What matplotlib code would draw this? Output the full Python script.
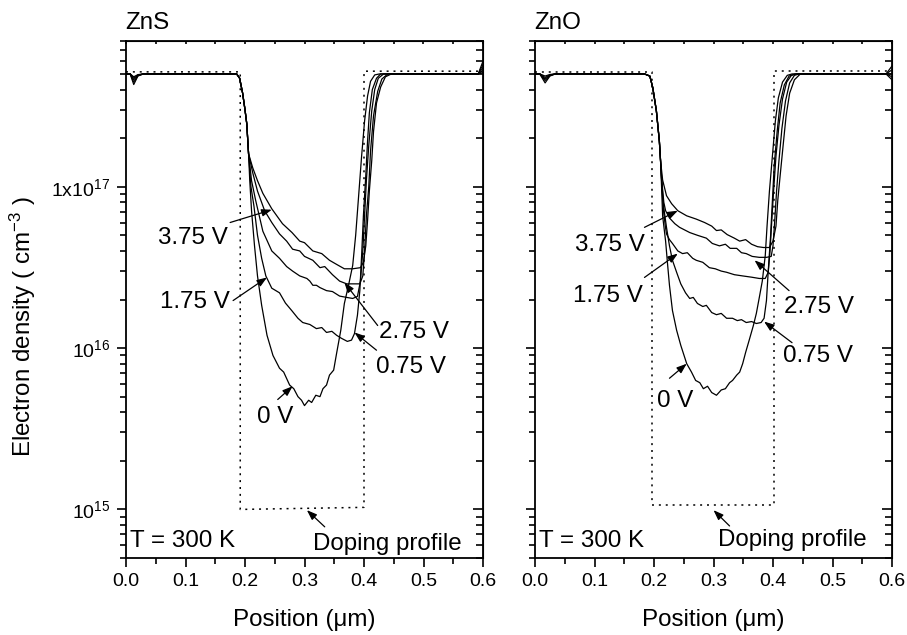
import numpy as np
import matplotlib
matplotlib.use("Agg")
import matplotlib.pyplot as plt
from matplotlib.ticker import (FixedLocator, FixedFormatter, MultipleLocator,
                               FormatStrFormatter, LogLocator, NullFormatter)

plt.rcParams['font.family'] = ['Liberation Sans', 'DejaVu Sans']
plt.rcParams['mathtext.fontset'] = 'custom'
plt.rcParams['mathtext.rm'] = 'Liberation Sans'
plt.rcParams['mathtext.it'] = 'Liberation Sans:italic'

# Electron density (cm^-3) vs position (um) for each bias, ZnS device
zns_0v = [(0.000, 5.0e17), (0.007, 5.0e17), (0.013, 4.3e17), (0.020, 4.85e17), (0.029, 5.0e17),
          (0.186, 5.0e17), (0.191, 4.7e17), (0.196, 3.8e17), (0.200, 3.0e17), (0.203, 2.45e17),
          (0.206, 1.6e17), (0.208, 1.09e17), (0.211, 7.1e16), (0.216, 4.3e16), (0.221, 2.8e16),
          (0.228, 1.84e16), (0.237, 1.2e16), (0.247, 9.0e15), (0.258, 7.5e15), (0.265, 7.1e15),
          (0.275, 5.9e15), (0.282, 5.6e15), (0.289, 5.0e15), (0.295, 4.75e15), (0.300, 4.4e15),
          (0.307, 4.75e15), (0.312, 4.6e15), (0.319, 5.1e15), (0.326, 5.0e15), (0.331, 5.6e15),
          (0.337, 5.9e15), (0.342, 6.8e15), (0.349, 7.3e15), (0.354, 9.3e15), (0.361, 1.29e16),
          (0.367, 1.89e16), (0.374, 2.45e16), (0.381, 3.25e16), (0.386, 5.0e16), (0.391, 8.8e16),
          (0.396, 1.55e17), (0.401, 2.56e17), (0.406, 3.65e17), (0.411, 4.5e17), (0.418, 4.93e17),
          (0.426, 5.0e17), (0.592, 5.0e17), (0.600, 6.0e17)]
zns_075v = [(0.000, 5.0e17), (0.007, 5.0e17), (0.013, 4.45e17), (0.020, 4.88e17), (0.029, 5.0e17),
            (0.186, 5.0e17), (0.191, 4.7e17), (0.196, 3.8e17), (0.200, 3.0e17), (0.203, 2.45e17),
            (0.206, 1.6e17), (0.210, 1.0e17), (0.215, 7.6e16), (0.221, 5.0e16), (0.228, 3.6e16),
            (0.235, 2.8e16), (0.245, 2.35e16), (0.258, 2.2e16), (0.268, 1.9e16), (0.279, 1.7e16),
            (0.289, 1.53e16), (0.297, 1.44e16), (0.309, 1.4e16), (0.320, 1.32e16), (0.329, 1.34e16),
            (0.337, 1.25e16), (0.346, 1.27e16), (0.354, 1.2e16), (0.362, 1.15e16), (0.372, 1.1e16),
            (0.379, 1.12e16), (0.384, 1.23e16), (0.389, 1.6e16), (0.393, 2.27e16), (0.396, 3.75e16),
            (0.399, 6.6e16), (0.403, 1.17e17), (0.406, 1.92e17), (0.409, 2.87e17), (0.414, 4.0e17),
            (0.421, 4.7e17), (0.428, 5.0e17), (0.592, 5.0e17), (0.600, 5.7e17)]
zns_175v = [(0.000, 5.0e17), (0.007, 5.0e17), (0.013, 4.6e17), (0.020, 4.9e17), (0.029, 5.0e17),
            (0.186, 5.0e17), (0.191, 4.7e17), (0.196, 3.8e17), (0.200, 3.0e17), (0.203, 2.45e17),
            (0.206, 1.6e17), (0.211, 1.09e17), (0.218, 8.2e16), (0.230, 5.3e16), (0.245, 4.0e16),
            (0.258, 3.6e16), (0.270, 3.2e16), (0.280, 3.0e16), (0.292, 2.8e16), (0.304, 2.7e16),
            (0.309, 2.6e16), (0.314, 2.45e16), (0.320, 2.45e16), (0.326, 2.37e16), (0.337, 2.27e16),
            (0.347, 2.24e16), (0.359, 2.1e16), (0.371, 2.06e16), (0.381, 2.03e16), (0.389, 2.09e16),
            (0.394, 2.6e16), (0.398, 4.0e16), (0.401, 6.6e16), (0.404, 1.09e17), (0.408, 1.8e17),
            (0.413, 2.95e17), (0.418, 4.0e17), (0.424, 4.7e17), (0.433, 5.0e17), (0.592, 5.0e17),
            (0.600, 5.45e17)]
zns_275v = [(0.000, 5.0e17), (0.007, 5.0e17), (0.013, 4.7e17), (0.020, 4.92e17), (0.029, 5.0e17),
            (0.186, 5.0e17), (0.191, 4.7e17), (0.196, 3.8e17), (0.200, 3.0e17), (0.203, 2.45e17),
            (0.206, 1.6e17), (0.213, 1.22e17), (0.221, 9.4e16), (0.233, 7.1e16), (0.245, 6.0e16),
            (0.258, 5.1e16), (0.270, 4.6e16), (0.280, 4.1e16), (0.292, 4.0e16), (0.300, 3.7e16),
            (0.314, 3.5e16), (0.326, 3.15e16), (0.334, 3.2e16), (0.347, 2.85e16), (0.359, 2.6e16),
            (0.371, 2.5e16), (0.384, 2.5e16), (0.393, 2.5e16), (0.398, 2.8e16), (0.401, 4.0e16),
            (0.404, 6.6e16), (0.408, 1.0e17), (0.411, 1.67e17), (0.416, 2.75e17), (0.423, 3.9e17),
            (0.430, 4.65e17), (0.440, 5.0e17), (0.592, 5.0e17), (0.600, 5.25e17)]
zns_375v = [(0.000, 5.0e17), (0.007, 5.0e17), (0.013, 4.8e17), (0.020, 4.95e17), (0.029, 5.0e17),
            (0.186, 5.0e17), (0.191, 4.7e17), (0.196, 3.8e17), (0.200, 3.0e17), (0.203, 2.45e17),
            (0.206, 1.6e17), (0.213, 1.31e17), (0.221, 1.09e17), (0.230, 9.1e16), (0.245, 7.3e16),
            (0.263, 5.9e16), (0.279, 5.2e16), (0.292, 4.6e16), (0.300, 4.5e16), (0.314, 4.0e16),
            (0.329, 3.85e16), (0.342, 3.5e16), (0.354, 3.3e16), (0.367, 3.1e16), (0.381, 3.1e16),
            (0.394, 3.15e16), (0.399, 3.4e16), (0.403, 4.3e16), (0.406, 6.2e16), (0.409, 9.4e16),
            (0.413, 1.45e17), (0.416, 2.2e17), (0.421, 3.3e17), (0.428, 4.15e17), (0.436, 4.8e17),
            (0.446, 5.0e17), (0.592, 5.0e17), (0.600, 5.1e17)]

# Same quantities for the ZnO device
zno_0v = [(0.000, 5.0e17), (0.008, 5.0e17), (0.017, 4.4e17), (0.025, 4.85e17), (0.034, 5.0e17),
          (0.184, 5.0e17), (0.193, 4.85e17), (0.198, 4.1e17), (0.204, 2.95e17), (0.209, 1.92e17),
          (0.211, 1.45e17), (0.2125, 1.05e17), (0.2145, 6.6e16), (0.2195, 4.6e16), (0.223, 3.25e16),
          (0.226, 2.45e16), (0.231, 1.71e16), (0.238, 1.29e16), (0.245, 1.04e16), (0.255, 8.0e15),
          (0.263, 7.1e15), (0.270, 6.3e15), (0.277, 6.1e15), (0.283, 5.6e15), (0.290, 5.8e15),
          (0.297, 5.3e15), (0.305, 5.1e15), (0.313, 5.5e15), (0.320, 5.6e15), (0.327, 6.1e15),
          (0.332, 6.3e15), (0.339, 6.8e15), (0.344, 7.1e15), (0.349, 8.0e15), (0.354, 9.4e15),
          (0.360, 1.12e16), (0.367, 1.38e16), (0.372, 1.64e16), (0.377, 2.06e16), (0.382, 2.6e16),
          (0.387, 3.75e16), (0.390, 5.7e16), (0.394, 9.4e16), (0.399, 1.55e17), (0.404, 2.56e17),
          (0.409, 3.55e17), (0.416, 4.45e17), (0.424, 4.9e17), (0.432, 5.0e17), (0.590, 5.0e17),
          (0.600, 5.6e17)]
zno_075v = [(0.000, 5.0e17), (0.008, 5.0e17), (0.017, 4.55e17), (0.025, 4.88e17), (0.034, 5.0e17),
            (0.184, 5.0e17), (0.193, 4.85e17), (0.198, 4.1e17), (0.204, 2.95e17), (0.209, 1.92e17),
            (0.211, 1.45e17), (0.2125, 1.15e17), (0.216, 7.6e16), (0.221, 5.6e16), (0.226, 4.3e16),
            (0.231, 3.5e16), (0.238, 2.95e16), (0.245, 2.5e16), (0.253, 2.2e16), (0.260, 2.03e16),
            (0.266, 2.06e16), (0.273, 1.89e16), (0.282, 1.81e16), (0.288, 1.84e16), (0.297, 1.66e16),
            (0.305, 1.61e16), (0.313, 1.64e16), (0.322, 1.53e16), (0.332, 1.53e16), (0.340, 1.48e16),
            (0.347, 1.5e16), (0.355, 1.44e16), (0.364, 1.46e16), (0.372, 1.42e16), (0.380, 1.44e16),
            (0.385, 1.53e16), (0.389, 1.97e16), (0.392, 3.0e16), (0.396, 5.0e16), (0.399, 8.2e16),
            (0.402, 1.35e17), (0.407, 2.2e17), (0.412, 3.3e17), (0.419, 4.27e17), (0.427, 4.85e17),
            (0.437, 5.0e17), (0.590, 5.0e17), (0.600, 5.3e17)]
zno_175v = [(0.000, 5.0e17), (0.008, 5.0e17), (0.017, 4.65e17), (0.025, 4.9e17), (0.034, 5.0e17),
            (0.184, 5.0e17), (0.193, 4.85e17), (0.198, 4.1e17), (0.204, 2.95e17), (0.209, 1.92e17),
            (0.211, 1.45e17), (0.214, 9.0e16), (0.2165, 6.8e16), (0.219, 5.7e16), (0.221, 5.1e16),
            (0.226, 4.7e16), (0.231, 4.45e16), (0.240, 4.0e16), (0.248, 3.85e16), (0.256, 3.9e16),
            (0.265, 3.6e16), (0.271, 3.5e16), (0.282, 3.4e16), (0.293, 3.15e16), (0.303, 3.1e16),
            (0.313, 3.0e16), (0.322, 2.95e16), (0.335, 2.85e16), (0.349, 2.8e16), (0.364, 2.75e16),
            (0.377, 2.7e16), (0.387, 2.7e16), (0.392, 2.95e16), (0.395, 4.0e16), (0.398, 6.2e16),
            (0.401, 9.4e16), (0.405, 1.55e17), (0.410, 2.4e17), (0.416, 3.5e17), (0.423, 4.45e17),
            (0.431, 4.9e17), (0.440, 5.0e17), (0.590, 5.0e17), (0.600, 5.0e17)]
zno_275v = [(0.000, 5.0e17), (0.008, 5.0e17), (0.017, 4.75e17), (0.025, 4.93e17), (0.034, 5.0e17),
            (0.184, 5.0e17), (0.193, 4.85e17), (0.198, 4.1e17), (0.204, 2.95e17), (0.209, 1.92e17),
            (0.211, 1.45e17), (0.2135, 1.05e17), (0.2165, 8.0e16), (0.2195, 7.1e16), (0.226, 6.4e16),
            (0.235, 5.9e16), (0.243, 5.6e16), (0.260, 5.2e16), (0.273, 5.0e16), (0.288, 4.8e16),
            (0.298, 4.45e16), (0.310, 4.3e16), (0.320, 4.4e16), (0.328, 4.15e16), (0.339, 4.15e16),
            (0.347, 3.9e16), (0.355, 3.85e16), (0.365, 3.7e16), (0.377, 3.65e16), (0.389, 3.65e16),
            (0.397, 3.7e16), (0.400, 4.3e16), (0.403, 6.2e16), (0.406, 9.4e16), (0.410, 1.45e17),
            (0.415, 2.3e17), (0.421, 3.4e17), (0.428, 4.4e17), (0.436, 4.9e17), (0.444, 5.0e17),
            (0.590, 5.0e17), (0.600, 4.8e17)]
zno_375v = [(0.000, 5.0e17), (0.008, 5.0e17), (0.017, 4.85e17), (0.025, 4.96e17), (0.034, 5.0e17),
            (0.184, 5.0e17), (0.193, 4.85e17), (0.198, 4.1e17), (0.204, 2.95e17), (0.209, 1.92e17),
            (0.211, 1.45e17), (0.2145, 1.1e17), (0.221, 8.8e16), (0.2296, 7.85e16), (0.240, 7.1e16),
            (0.255, 6.6e16), (0.271, 6.3e16), (0.285, 6.0e16), (0.297, 5.7e16), (0.305, 5.35e16),
            (0.313, 5.4e16), (0.323, 5.05e16), (0.335, 4.8e16), (0.344, 4.6e16), (0.354, 4.7e16),
            (0.364, 4.4e16), (0.374, 4.25e16), (0.384, 4.2e16), (0.394, 4.2e16), (0.400, 4.6e16),
            (0.405, 5.7e16), (0.408, 8.2e16), (0.412, 1.17e17), (0.417, 1.8e17), (0.422, 2.75e17),
            (0.428, 3.8e17), (0.436, 4.6e17), (0.446, 5.0e17), (0.590, 5.0e17), (0.600, 4.6e17)]

# Donor doping profiles (dotted)
zns_doping_x = [0.0, 0.192, 0.192, 0.400, 0.400, 0.600]
zns_doping_n = [5.15e17, 5.15e17, 1.0e15, 1.03e15, 5.2e17, 5.2e17]
zno_doping_x = [0.0, 0.197, 0.197, 0.402, 0.402, 0.600]
zno_doping_n = [5.15e17, 5.15e17, 1.07e15, 1.07e15, 5.2e17, 5.2e17]

y_ticks = [1e15, 1e16, 1e17]
y_tick_labels = ['10$^{15}$', '10$^{16}$', '1x10$^{17}$']

# bias label: (text position, arrow tail, arrow tip)
zns_labels = [
    ('3.75 V', (0.054, 4.44e16), (0.175, 6.0e16), (0.245, 7.2e16)),
    ('1.75 V', (0.057, 1.76e16), (0.180, 1.97e16), (0.237, 2.74e16)),
    ('2.75 V', (0.426, 1.16e16), (0.423, 1.38e16), (0.367, 2.55e16)),
    ('0.75 V', (0.420, 6.97e15), (0.421, 9.7e15), (0.384, 1.25e16)),
    ('0 V', (0.220, 3.42e15), (0.255, 4.8e15), (0.280, 5.8e15)),
    ('Doping profile', (0.314, 5.6e14), (0.334, 7.8e14), (0.304, 9.9e14)),
]
zno_labels = [
    ('3.75 V', (0.067, 4.02e16), (0.184, 5.6e16), (0.240, 7.1e16)),
    ('1.75 V', (0.064, 1.92e16), (0.184, 2.74e16), (0.240, 3.85e16)),
    ('2.75 V', (0.419, 1.64e16), (0.427, 2.27e16), (0.369, 3.5e16)),
    ('0.75 V', (0.416, 8.16e15), (0.432, 1.08e16), (0.385, 1.46e16)),
    ('0 V', (0.2045, 4.3e15), (0.226, 6.5e15), (0.255, 8.0e15)),
    ('Doping profile', (0.307, 5.94e14), (0.327, 7.9e14), (0.300, 9.9e14)),
]

fig = plt.figure(figsize=(9.07, 6.35), dpi=100)
ax_zns = fig.add_axes([126 / 907, 77 / 635, 357 / 907, 517 / 635])
ax_zno = fig.add_axes([535 / 907, 77 / 635, 357 / 907, 517 / 635])

TEXT_SIZE = 17.4
TICK_SIZE = 14


def setup_axes(ax, with_labels):
    ax.set_yscale('log')
    ax.set_xlim(0, 0.6)
    ax.set_ylim(5e14, 8e17)
    for sp in ax.spines.values():
        sp.set_linewidth(1.3)
    ax.xaxis.set_major_locator(MultipleLocator(0.1))
    ax.xaxis.set_minor_locator(MultipleLocator(0.05))
    ax.xaxis.set_major_formatter(FormatStrFormatter('%.1f'))
    ax.yaxis.set_major_locator(FixedLocator(y_ticks))
    ax.yaxis.set_minor_locator(LogLocator(base=10, subs=np.arange(2, 10)))
    ax.yaxis.set_minor_formatter(NullFormatter())
    if with_labels:
        ax.yaxis.set_major_formatter(FixedFormatter(y_tick_labels))
    else:
        ax.yaxis.set_major_formatter(NullFormatter())
    ax.tick_params(which='major', direction='out', length=6.5, width=1.2, labelsize=TICK_SIZE)
    ax.tick_params(which='minor', direction='out', length=4.3, width=1.2)
    ax.tick_params(axis='x', pad=4)
    ax.tick_params(axis='y', pad=5)

    # inward ticks on the top and right edges
    top = ax.secondary_xaxis('top')
    top.xaxis.set_major_locator(MultipleLocator(0.05))
    top.xaxis.set_major_formatter(NullFormatter())
    top.tick_params(direction='in', length=2.5, width=1.2)
    right = ax.secondary_yaxis('right')
    right.yaxis.set_major_locator(FixedLocator(y_ticks))
    right.yaxis.set_minor_locator(LogLocator(base=10, subs=np.arange(2, 10)))
    right.yaxis.set_major_formatter(NullFormatter())
    right.yaxis.set_minor_formatter(NullFormatter())
    right.tick_params(which='major', direction='in', length=7, width=1.2)
    right.tick_params(which='minor', direction='in', length=5, width=1.2)

    ax.set_xlabel('Position (μm)', fontsize=TEXT_SIZE)
    ax.xaxis.set_label_coords(0.5, -0.098)


def draw_panel(ax, curves, doping_x, doping_n, labels, title, with_labels):
    setup_axes(ax, with_labels)
    for curve in curves:
        xs = [p[0] for p in curve]
        ns = [p[1] for p in curve]
        ax.plot(xs, ns, color='black', lw=0.9)
    ax.plot(doping_x, doping_n, color='black', lw=1.1, linestyle=(0, (1.3, 3.2)))
    for text, pos, tail, tip in labels:
        ax.annotate('', xy=tip, xytext=tail,
                    arrowprops=dict(arrowstyle='-|>,head_length=0.6,head_width=0.22',
                                    color='black', lw=0.9, mutation_scale=10,
                                    shrinkA=0, shrinkB=0))
        ax.text(pos[0], pos[1], text, fontsize=TEXT_SIZE, ha='left', va='baseline')
    ax.text(0.007, 5.85e14, 'T = 300 K', fontsize=TEXT_SIZE, ha='left', va='baseline')
    ax.text(-0.002, 1.0 + 12 / 517, title, fontsize=TEXT_SIZE, ha='left', va='baseline',
            transform=ax.transAxes)


draw_panel(ax_zns, [zns_0v, zns_075v, zns_175v, zns_275v, zns_375v],
           zns_doping_x, zns_doping_n, zns_labels, 'ZnS', True)
draw_panel(ax_zno, [zno_0v, zno_075v, zno_175v, zno_275v, zno_375v],
           zno_doping_x, zno_doping_n, zno_labels, 'ZnO', False)

ax_zns.set_ylabel('Electron density ( cm$^{-3}$ )', fontsize=TEXT_SIZE)
ax_zns.yaxis.set_label_coords(-0.246, 0.448)

fig.savefig('out.png', dpi=100)
